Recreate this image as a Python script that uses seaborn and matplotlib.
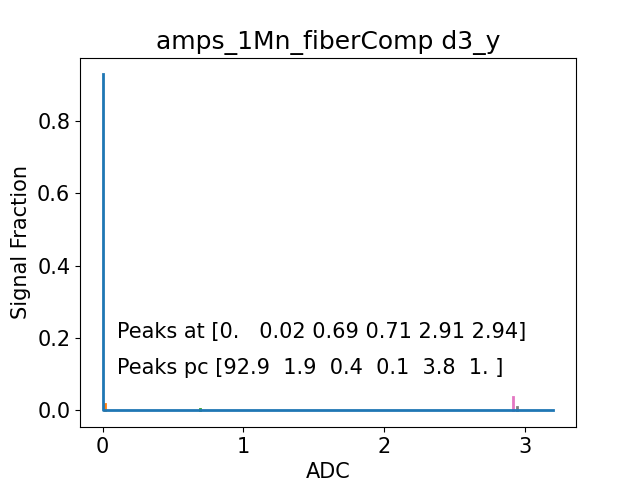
import numpy as np
import pandas as pd
import seaborn as sns
import matplotlib
matplotlib.use('Agg')
import matplotlib.pyplot as plt

# full spectrum (ADC vs signal fraction)
adc = [0.0, 0.0, 0.01, 3.2]
frac = [0.929, 0.0, 0.0, 0.0]

# individual peaks
peak_pos = [0.02, 0.69, 0.71, 2.91, 2.94]
peak_frac = [0.019, 0.004, 0.001, 0.038, 0.010]
peak_colors = ['tab:orange', 'tab:green', 'tab:red', 'tab:pink', 'tab:gray']

peaks_at = "[0.   0.02 0.69 0.71 2.91 2.94]"
peaks_pc = "[92.9  1.9  0.4  0.1  3.8  1. ]"

plt.rcParams['font.size'] = 15
fig, ax = plt.subplots(figsize=(6.4, 4.8), dpi=100)

for p, f, c in zip(peak_pos, peak_frac, peak_colors):
    sns.lineplot(x=[p, p], y=[0, f], color=c, ax=ax, linewidth=2,
                 sort=False, estimator=None, errorbar=None)

sns.lineplot(x=adc, y=frac, color='tab:blue', ax=ax, linewidth=2,
             sort=False, estimator=None, errorbar=None, zorder=5)

ax.text(0.1, 0.2, "Peaks at " + peaks_at, fontsize=15)
ax.text(0.1, 0.1, "Peaks pc " + peaks_pc, fontsize=15)

ax.set_xlabel('ADC')
ax.set_ylabel('Signal Fraction')
ax.set_title('amps_1Mn_fiberComp d3_y', fontsize=18)
ax.set_xticks([0, 1, 2, 3])
ax.set_yticks([0.0, 0.2, 0.4, 0.6, 0.8])

plt.savefig('out.png')
